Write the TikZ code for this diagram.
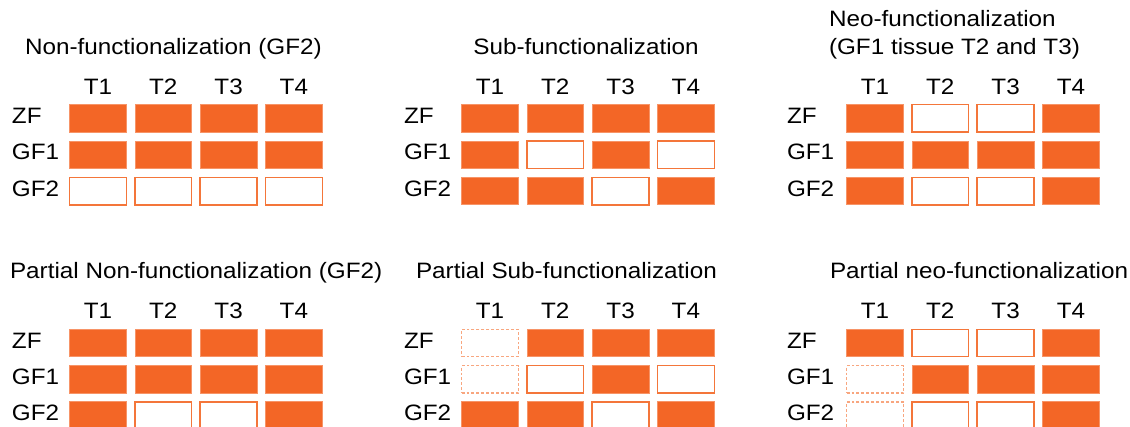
\documentclass[tikz,border=0pt]{standalone}
\usepackage{fontspec}
\setmainfont{Liberation Sans}[FakeStretch=1.09]
\definecolor{orfill}{RGB}{243,102,38}
\definecolor{orline}{RGB}{244,118,58}
\tikzset{
  cellbase/.style={rectangle, inner sep=0pt, outer sep=0pt, minimum width=42.6pt, minimum height=20.6pt},
  cf/.style={cellbase, fill=orfill, draw=orfill!70!white, line width=0.6pt},
  ce/.style={cellbase, fill=white, draw=orline, line width=1.1pt},
  cd/.style={cellbase, fill=white, draw=orline!65!white, line width=1pt, dash pattern=on 2.2pt off 1.5pt},
  lab/.style={font=\fontsize{16.7}{19}\selectfont, inner sep=0pt, outer sep=0pt},
}
\newcommand\cellrow[5]{%
  \foreach \s [count=\c] in {#5} {
    \node[c\s] (#1-#2-\c) at ({#3+(\c-1)*65.3},{#4}) {};
  }%
}
\newcommand\panelgrid[7]{%
  \cellrow{#1}{1}{#2}{#3}{#5}
  \cellrow{#1}{2}{#2}{#3+36.3}{#6}
  \cellrow{#1}{3}{#2}{#3+72.6}{#7}
  \foreach \t in {1,...,4} {
    \node[lab, anchor=base] (#1-t\t) at ({#2+(\t-1)*65.3},{#3-24}) {T\t};
  }
  \node[lab, anchor=base west] (#1-zf) at ({#4},{#3+5}) {ZF};
  \node[lab, anchor=base west] (#1-gfa) at ({#4},{#3+36.3+5}) {GF1};
  \node[lab, anchor=base west] (#1-gfb) at ({#4},{#3+72.6+5}) {GF2};
}
\begin{document}
\begin{tikzpicture}[x=0.75pt,y=-0.75pt]
\useasboundingbox (0,0) rectangle (1130,427);
% top row of panels
\node[lab, anchor=base west] (ta) at (25,55) {Non-functionalization (GF2)};
\panelgrid{a}{98}{118.5}{12}{f,f,f,f}{f,f,f,f}{e,e,e,e}
\node[lab, anchor=base] (tb) at (586,55) {Sub-functionalization};
\panelgrid{b}{490}{118.5}{404}{f,f,f,f}{f,e,f,e}{f,f,e,f}
\node[lab, anchor=base west] (tc1) at (829,27) {Neo-functionalization};
\node[lab, anchor=base west] (tc2) at (829,55) {(GF1 tissue T2 and T3)};
\panelgrid{c}{875}{118.5}{787}{f,e,e,f}{f,f,f,f}{f,e,e,f}
% bottom row of panels
\node[lab, anchor=base west] (td) at (10,279) {Partial Non-functionalization (GF2)};
\panelgrid{d}{98}{343}{12}{f,f,f,f}{f,f,f,f}{f,e,e,f}
\node[lab, anchor=base west] (te) at (416,279) {Partial Sub-functionalization};
\panelgrid{e}{490}{343}{404}{d,f,f,f}{d,e,f,e}{f,f,e,f}
\node[lab, anchor=base west] (tf) at (830,279) {Partial neo-functionalization};
\panelgrid{f}{875}{343}{787}{f,e,e,f}{d,f,f,f}{d,e,e,f}
\end{tikzpicture}
\end{document}
